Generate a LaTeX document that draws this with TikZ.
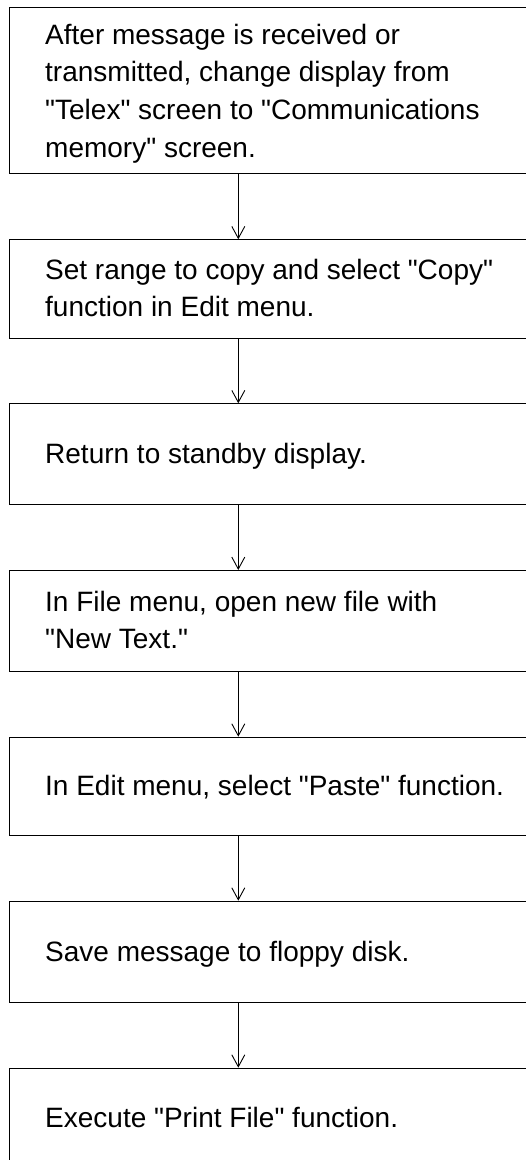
\documentclass[tikz,border=0pt]{standalone}
\usepackage{fontspec}
\setmainfont{Liberation Sans}[Ligatures=TeXOff]
\usetikzlibrary{arrows.meta}
\tikzset{
  stepbox/.style={draw=black, line width=0.9pt, anchor=north west, minimum width=540pt, inner sep=0pt},
  txt/.style={anchor=base west, align=left, inner sep=0pt, font=\fontsize{28pt}{37.7pt}\selectfont},
  arr/.style={draw=black, line width=0.9pt, -{Straight Barb[length=12pt,width=13pt,line width=0.9pt]}}
}
\begin{document}
\begin{tikzpicture}[x=1pt,y=1pt]
\clip (0,0) rectangle (526,-1160);
\fill[white] (0,0) rectangle (526,-1160);
\coordinate (ax) at (238.3,0);
\node[stepbox, minimum height=165.7pt] (b1) at (9.3,-7.3) {};
\node[stepbox, minimum height=98.4pt] (b2) at (9.3,-239.3) {};
\node[stepbox, minimum height=100.7pt] (b3) at (9.3,-403.3) {};
\node[stepbox, minimum height=100.7pt] (b4) at (9.3,-570) {};
\node[stepbox, minimum height=98.3pt] (b5) at (9.3,-736.7) {};
\node[stepbox, minimum height=101pt] (b6) at (9.3,-900.7) {};
\node[stepbox, minimum height=100.5pt] (b7) at (9.3,-1067.7) {};
\node[txt] (t1) at (45,-157.1) {After message is received or\\transmitted, change display from\\"Telex" screen to "Communications\\memory" screen.};
\node[txt] (t2) at (45,-316.7) {Set range to copy and select "Copy"\\function in Edit menu.};
\node[txt] (t3) at (45,-463.3) {Return to standby display.};
\node[txt] (t4) at (45,-648.7) {In File menu, open new file with\\"New Text."};
\node[txt] (t5) at (45,-795) {In Edit menu, select "Paste" function.};
\node[txt] (t6) at (45,-961) {Save message to floppy disk.};
\node[txt] (t7) at (45,-1127.3) {Execute "Print File" function.};
\draw[arr] (b1.south -| ax) -- (b2.north -| ax);
\draw[arr] (b2.south -| ax) -- (b3.north -| ax);
\draw[arr] (b3.south -| ax) -- (b4.north -| ax);
\draw[arr] (b4.south -| ax) -- (b5.north -| ax);
\draw[arr] (b5.south -| ax) -- (b6.north -| ax);
\draw[arr] (b6.south -| ax) -- (b7.north -| ax);
\end{tikzpicture}
\end{document}
